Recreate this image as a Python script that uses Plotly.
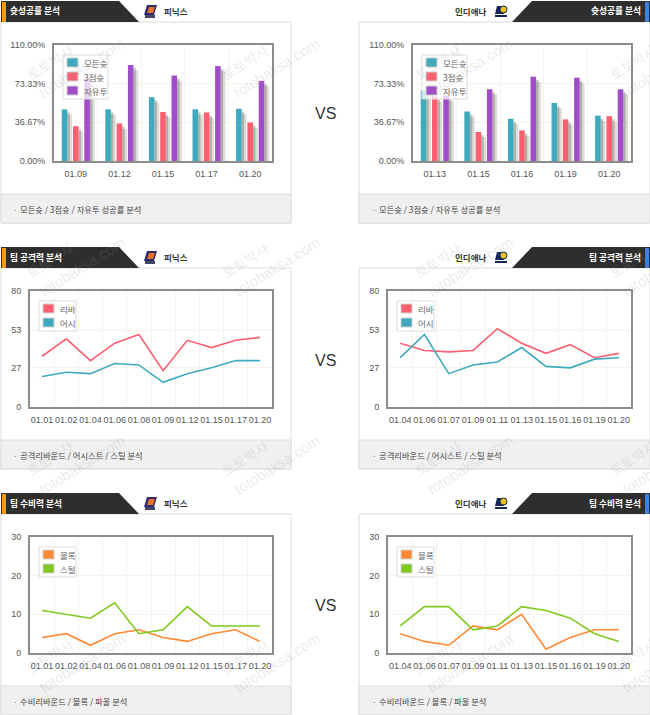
import plotly.graph_objects as go

# shooting panels (bars)
phx_shot_dates = ["01.09", "01.12", "01.15", "01.17", "01.20"]
phx_all = [49, 49, 60.5, 49, 49.5]
phx_three = [33, 35.5, 46.5, 46, 36.5]
phx_free = [78, 91, 81, 90, 76]

ind_shot_dates = ["01.13", "01.15", "01.16", "01.19", "01.20"]
ind_all = [67, 47, 40, 55, 43]
ind_three = [61, 27.5, 29, 39.5, 42.5]
ind_free = [62, 68, 80, 79, 68]

shot_ticks = [0, 36.67, 73.33, 110]
shot_tick_text = ["0.00%", "36.67%", "73.33%", "110.00%"]

# offence panels
phx_dates = ["01.01", "01.02", "01.04", "01.06", "01.08", "01.09", "01.12", "01.15", "01.17", "01.20"]
phx_reb = [35, 47, 32, 44, 50, 25, 46, 41, 46, 48]
phx_ast = [21, 24, 23, 30, 29, 17, 23, 27, 32, 32]

ind_dates = ["01.04", "01.06", "01.07", "01.09", "01.11", "01.13", "01.15", "01.16", "01.19", "01.20"]
ind_reb = [44, 39, 38, 39, 54, 44, 37, 43, 34, 37]
ind_ast = [34, 50, 23, 29, 31, 41, 28, 27, 33, 34]

off_ticks = [0, 27, 53, 80]

# defence panels
phx_blk = [4, 5, 2, 5, 6, 4, 3, 5, 6, 3]
phx_stl = [11, 10, 9, 13, 5, 6, 12, 7, 7, 7]
ind_blk = [5, 3, 2, 7, 6, 10, 1, 4, 6, 6]
ind_stl = [7, 12, 12, 6, 7, 12, 11, 9, 5, 3]

def_ticks = [0, 10, 20, 30]

TEAL = "#3fa9be"
RED = "#fc6070"
PURPLE = "#a14cc8"
ORANGE = "#ff8833"
GREEN = "#80c91f"

W = 650
H = 715
KR = "Noto Sans CJK KR"
LATIN = "Liberation Sans"

fig = go.Figure()
shapes = []
notes = []
axis_count = 0


def px(x):
    return x / W


def py(y):
    return 1 - y / H


def addRect(x0, y0, x1, y1, fill, line="rgba(0,0,0,0)", width=0, layer="below"):
    shapes.append(dict(type="rect", xref="paper", yref="paper", x0=px(x0), x1=px(x1), y0=py(y0), y1=py(y1),
                       fillcolor=fill, line=dict(color=line, width=width), layer=layer))


def addPoly(points, fill, layer="below"):
    path = "M " + " L ".join(f"{px(a):.5f},{py(b):.5f}" for a, b in points) + " Z"
    shapes.append(dict(type="path", xref="paper", yref="paper", path=path, fillcolor=fill,
                       line=dict(width=0), layer=layer))


def addText(x, y, text, size=9, color="#444", anchor="left", family=KR, angle=0):
    notes.append(dict(xref="paper", yref="paper", x=px(x), y=py(y), text=text, showarrow=False,
                      xanchor=anchor, yanchor="middle", textangle=angle,
                      font=dict(size=size, color=color, family=family)))


def newAxes(left, top, right, bottom, dates, ticks, tick_text, y_max):
    global axis_count
    axis_count += 1
    suffix = "" if axis_count == 1 else str(axis_count)
    frame = dict(showline=True, linecolor="#8c8c88", linewidth=2, mirror=True, zeroline=False,
                 gridcolor="#f6f3ea", gridwidth=1, ticks="",
                 tickfont=dict(size=9, color="#555", family=LATIN))
    fig.layout["xaxis" + suffix] = dict(frame, domain=[px(left), px(right)], anchor="y" + suffix,
                                        type="category", tickson="boundaries", tickangle=0,
                                        range=[-0.5, len(dates) - 0.5], ticklabelstandoff=3)
    fig.layout["yaxis" + suffix] = dict(frame, domain=[py(bottom), py(top)], anchor="x" + suffix,
                                        range=[0, y_max], tickvals=ticks, ticktext=tick_text,
                                        ticklabelstandoff=5)
    return "x" + suffix, "y" + suffix


def addLegend(left, top, width, names, colors):
    x0 = left + 9
    y0 = top + 10
    box_h = 14 * len(names) + 2
    addRect(x0, y0, x0 + width, y0 + box_h, "rgba(255,255,255,0.75)", "#dcdcd8", 1, "above")
    for i, name in enumerate(names):
        addRect(x0 + 4, y0 + 3 + i * 14, x0 + 15, y0 + 12 + i * 14, colors[i], "#d0d0d0", 1, "above")
        addText(x0 + 19, y0 + 8 + i * 14, name, size=8.5, color="#666")


def addBars(left, top, right, bottom, dates, series, names, colors):
    xa, ya = newAxes(left, top, right, bottom, dates, shot_ticks, shot_tick_text, 110)
    starts = [-0.323, -0.064, 0.195]
    for i, values in enumerate(series):
        # soft shadow on the right of each bar, two layers so it fades out
        fig.add_trace(go.Bar(x=dates, y=[v - 5 for v in values], offset=starts[i] + 0.128, width=0.11,
                             marker=dict(color="rgba(130,128,115,0.28)", line_width=0), xaxis=xa, yaxis=ya,
                             showlegend=False))
        fig.add_trace(go.Bar(x=dates, y=[v - 3 for v in values], offset=starts[i] + 0.128, width=0.055,
                             marker=dict(color="rgba(110,108,95,0.4)", line_width=0), xaxis=xa, yaxis=ya,
                             showlegend=False))
        fig.add_trace(go.Bar(x=dates, y=values, offset=starts[i], width=0.128, name=names[i],
                             marker=dict(color=colors[i], line_width=0), xaxis=xa, yaxis=ya, showlegend=False))
    addLegend(left, top, 45, names, colors)


def addLines(left, top, right, bottom, dates, series, names, colors, ticks):
    xa, ya = newAxes(left, top, right, bottom, dates, ticks, [str(t) for t in ticks], ticks[-1])
    for i, values in enumerate(series):
        fig.add_trace(go.Scatter(x=dates, y=values, mode="lines", name=names[i], showlegend=False,
                                 line=dict(color=colors[i], width=1.6), xaxis=xa, yaxis=ya))
    addLegend(left, top, 37, names, colors)


def sunsLogo(top):
    addPoly([(147, top + 4), (157, top + 4), (154, top + 14), (144, top + 14)], "#2b2a6b")
    addPoly([(149, top + 6), (155, top + 6), (153, top + 12), (147, top + 12)], "#e8702a")
    addRect(145, top + 14, 155, top + 17, "#444466")


def pacersLogo(top):
    addPoly([(497, top + 5), (506, top + 5), (504, top + 13), (495, top + 13)], "#12265a")
    shapes.append(dict(type="circle", xref="paper", yref="paper", x0=px(500), x1=px(507), y0=py(top + 12),
                       y1=py(top + 5), fillcolor="#f2c21a", line=dict(color="#12265a", width=1), layer="below"))
    addRect(495, top + 14, 507, top + 16, "#12265a")


def addFrames(top, title, footer_left, footer_right):
    bottom = top + 222
    # left panel
    addRect(1, top + 21, 291, bottom, "white", "#dddddd", 1)
    addRect(1, top + 193, 291, bottom, "#f0f0f0", "#dddddd", 1)
    addPoly([(1, top), (119, top), (139, top + 21), (1, top + 21)], "#2e2e2e")
    addRect(2, top + 1, 6, top + 21, "#f59a0c")
    addText(8, top + 10, f"<b>{title}</b>", size=8.7, color="white")
    addText(162, top + 10, "<b>피닉스</b>", size=8.5, color="#333")
    addText(11, top + 208, "·", size=8, color="#777")
    addText(18, top + 208, footer_left, size=8.3, color="#444")
    sunsLogo(top)
    # right panel
    addRect(359, top + 21, 650, bottom, "white", "#dddddd", 1)
    addRect(359, top + 193, 650, bottom, "#f0f0f0", "#dddddd", 1)
    addPoly([(532, top), (650, top), (650, top + 21), (512, top + 21)], "#2e2e2e")
    addRect(645, top + 1, 649, top + 21, "#3f7fe0")
    addText(643, top + 10, f"<b>{title}</b>", size=8.7, color="white", anchor="right")
    addText(488, top + 10, "<b>인디애나</b>", size=8.5, color="#333", anchor="right")
    addText(370, top + 208, "·", size=8, color="#777")
    addText(377, top + 208, footer_right, size=8.3, color="#444")
    pacersLogo(top)


def addWatermarks():
    for y in [62, 260, 458, 656]:
        for x in [50, 245, 438, 633]:
            addText(x, y, "토토박사", size=14, color="rgba(150,150,150,0.2)", anchor="center", angle=-32)
            addText(x + 32, y + 6, "totobaksa.com", size=15, color="rgba(150,150,150,0.2)",
                    anchor="center", family=LATIN, angle=-32)


addFrames(1, "슛성공률 분석", "모든슛 / 3점슛 / 자유투 성공률 분석", "모든슛 / 3점슛 / 자유투 성공률 분석")
addFrames(247, "팀 공격력 분석", "공격리바운드 / 어시스트 / 스틸 분석", "공격리바운드 / 어시스트 / 스틸 분석")
addFrames(493, "팀 수비력 분석", "수비리바운드 / 블록 / 파울 분석", "수비리바운드 / 블록 / 파울 분석")

shot_names = ["모든슛", "3점슛", "자유투"]
shot_colors = [TEAL, RED, PURPLE]
addBars(54, 45, 272, 161, phx_shot_dates, [phx_all, phx_three, phx_free], shot_names, shot_colors)
addBars(413, 45, 631, 161, ind_shot_dates, [ind_all, ind_three, ind_free], shot_names, shot_colors)

addLines(30, 291, 272, 407, phx_dates, [phx_reb, phx_ast], ["리바", "어시"], [RED, TEAL], off_ticks)
addLines(388, 291, 631, 407, ind_dates, [ind_reb, ind_ast], ["리바", "어시"], [RED, TEAL], off_ticks)

addLines(30, 537, 272, 653, phx_dates, [phx_blk, phx_stl], ["블록", "스틸"], [ORANGE, GREEN], def_ticks)
addLines(388, 537, 631, 653, ind_dates, [ind_blk, ind_stl], ["블록", "스틸"], [ORANGE, GREEN], def_ticks)

for y in [113, 360, 605]:
    addText(325, y, "VS", size=16, color="#333", anchor="center", family=LATIN)

addWatermarks()

# autoexpand off: the watermark text running past the edge must not shrink the plot
fig.update_layout(width=W, height=H, margin=dict(l=0, r=0, t=0, b=0, autoexpand=False), paper_bgcolor="white",
                  plot_bgcolor="#fffcf5", barmode="overlay", showlegend=False,
                  shapes=shapes, annotations=notes)
for name in fig.layout:
    if name.startswith("xaxis") or name.startswith("yaxis"):
        fig.layout[name].layer = "below traces"

fig.write_html("out.html", config=dict(displayModeBar=False),
               post_script="document.body.style.margin='0';document.documentElement.style.overflow='hidden';")
